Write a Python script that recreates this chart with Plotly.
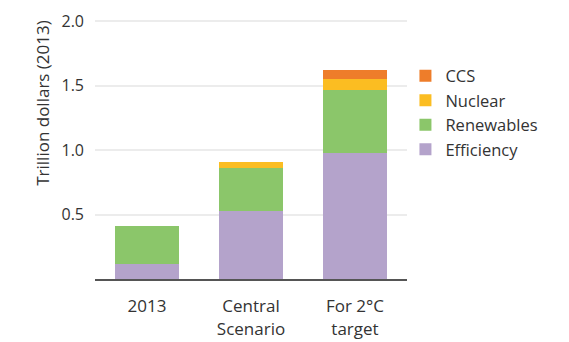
import plotly.graph_objects as go

categories = ["2013", "Central<br>Scenario", "For 2°C<br>target"]
efficiency = [0.12, 0.53, 0.98]
renewables = [0.29, 0.33, 0.49]
nuclear = [0.0, 0.05, 0.08]
ccs = [0.0, 0.0, 0.07]

series = [
    ("Efficiency", efficiency, "#b4a3cb"),
    ("Renewables", renewables, "#8bc66a"),
    ("Nuclear", nuclear, "#fbbd22"),
    ("CCS", ccs, "#ee7d2a"),
]

fig = go.Figure()
for name, vals, col in series:
    fig.add_trace(go.Bar(x=categories, y=vals, name=name, marker_color=col,
                         marker_line_width=0))

font_family = "Open Sans, Liberation Sans, sans-serif"
fig.update_layout(
    width=569, height=342,
    barmode="stack", bargap=0.39,
    plot_bgcolor="white", paper_bgcolor="white",
    margin=dict(l=95, r=162, t=15, b=63),
    font=dict(family=font_family, size=16, color="#333333"),
    legend=dict(traceorder="reversed", x=0.995, xanchor="left", y=0.835, yanchor="top",
                font=dict(size=16.5, color="#333333"), bgcolor="rgba(0,0,0,0)",
                itemwidth=30),
    xaxis=dict(showline=True, linecolor="#555555", linewidth=2, ticks="",
               tickfont=dict(size=17), showgrid=False, ticklabelstandoff=11,
               automargin=False),
    yaxis=dict(range=[0, 2.05], tickvals=[0.5, 1.0, 1.5, 2.0], ticktext=["0.5", "1.0", "1.5", "2.0"],
               showgrid=True, gridcolor="#ececec", gridwidth=2, zeroline=False,
               showline=False, ticks="", ticklabelstandoff=10,
               tickfont=dict(size=16), automargin=False),
    annotations=[dict(text="Trillion dollars (2013)", textangle=-90, xref="paper", yref="paper",
                      x=-0.167, y=0.667, xanchor="center", yanchor="middle", showarrow=False,
                      font=dict(size=17, color="#333333"))],
)

fig.write_html("out.html")
